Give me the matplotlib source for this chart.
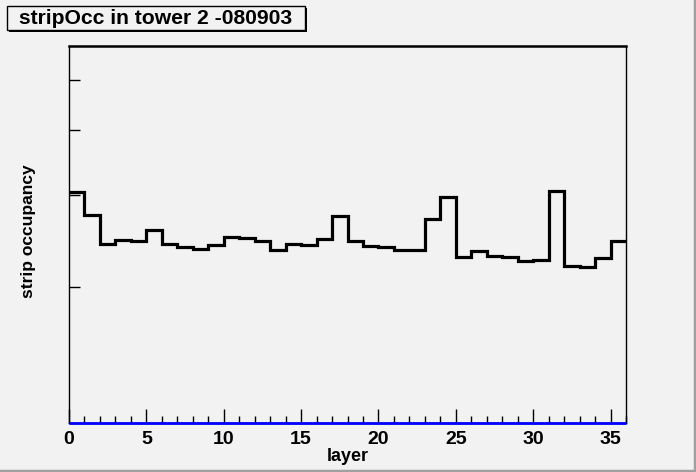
import numpy as np
import matplotlib.pyplot as plt
from matplotlib.patches import Rectangle
from matplotlib.lines import Line2D
from matplotlib.ticker import FixedLocator, NullFormatter, MultipleLocator

# strip occupancy per layer (units of 1e-4)
layers = np.arange(0, 37)
occupancy = [3.05, 2.75, 2.42, 2.46, 2.45, 2.57, 2.42, 2.39, 2.37, 2.41,
             2.50, 2.48, 2.45, 2.35, 2.42, 2.41, 2.47, 2.74, 2.45, 2.40,
             2.39, 2.35, 2.35, 2.70, 2.98, 2.28, 2.34, 2.29, 2.28, 2.24,
             2.25, 3.06, 2.19, 2.18, 2.27, 2.45]
ref_occ = [0.0] * 36
y_ticks = [2, 3, 4, 5]
x_major = [0, 5, 10, 15, 20, 25, 30, 35]

bg = '#f2f2f2'
plt.rcParams['font.family'] = ['Liberation Sans', 'DejaVu Sans']

fig = plt.figure(figsize=(6.96, 4.72), dpi=100, facecolor=bg)
W, H = 696, 472
ax = fig.add_axes([69 / W, 1 - 423 / H, (626 - 69) / W, (423 - 46) / H])
ax.set_facecolor(bg)

ymin, ymax = 1.095, 5.81
ax.stairs(occupancy, layers, color='black', linewidth=2.3, baseline=None)
# second histogram sits below the visible range -> shows on the bottom edge
ax.stairs(np.clip(ref_occ, ymin, None), layers, color='blue', linewidth=2.0,
          baseline=None, clip_on=False, zorder=3)

ax.set_yscale('log')
ax.set_ylim(ymin, ymax)
ax.set_xlim(0, 36)
ax.yaxis.set_major_locator(FixedLocator(y_ticks))
ax.yaxis.set_minor_locator(FixedLocator([]))
ax.yaxis.set_major_formatter(NullFormatter())
ax.yaxis.set_minor_formatter(NullFormatter())
ax.xaxis.set_major_locator(FixedLocator(x_major))
ax.xaxis.set_minor_locator(MultipleLocator(1))

ax.tick_params(axis='y', which='major', direction='in', length=8, width=1,
               left=True, right=False)
ax.tick_params(axis='x', which='major', direction='in', length=10, width=1,
               top=False, labelsize=14, pad=6)
ax.tick_params(axis='x', which='minor', direction='in', length=5, width=1,
               top=False)
for lab in ax.get_xticklabels():
    lab.set_fontweight('bold')

for side in ['left', 'right', 'bottom']:
    ax.spines[side].set_linewidth(1.0)
ax.spines['top'].set_linewidth(1.8)

ax.set_xlabel('layer', fontsize=13, fontweight='bold', labelpad=0)
fig.text(29 / W, 1 - 231 / H, 'strip occupancy', rotation=90, fontsize=12.5,
         fontweight='bold', ha='center', va='center')

# title box with shadow
fig.patches.append(Rectangle((9 / W, 1 - 32 / H), 298 / W, 24 / H,
                             transform=fig.transFigure, facecolor='black',
                             edgecolor='none'))
fig.patches.append(Rectangle((7 / W, 1 - 30 / H), 298 / W, 24 / H,
                             transform=fig.transFigure, facecolor=bg,
                             edgecolor='black', linewidth=1))
fig.text(156 / W, 1 - 18 / H, 'stripOcc in tower 2 -080903', fontsize=15.2,
         fontweight='bold', ha='center', va='center')

# canvas bevel (right and bottom edges)
fig.lines.append(Line2D([694.5 / W, 694.5 / W], [0, 1], transform=fig.transFigure,
                        color='#a0a0a0', linewidth=2.5))
fig.lines.append(Line2D([0, 1], [1.5 / H, 1.5 / H], transform=fig.transFigure,
                        color='#a0a0a0', linewidth=2.5))

fig.savefig('out.png', dpi=100, facecolor=bg)
